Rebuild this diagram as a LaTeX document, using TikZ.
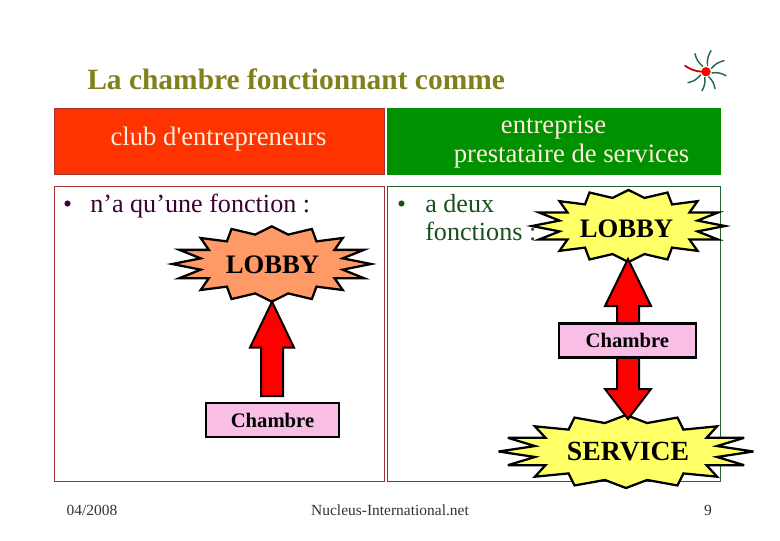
\documentclass[tikz,border=0pt]{standalone}
\usepackage{fontspec}
\usetikzlibrary{calc}
\setmainfont{Liberation Serif}
\newfontfamily\plainserif{Liberation Serif}
\definecolor{ttl}{RGB}{128,128,28}
\definecolor{redbox}{RGB}{255,51,0}
\definecolor{greenbox}{RGB}{0,145,0}
\definecolor{redline}{RGB}{160,50,50}
\definecolor{greenline}{RGB}{40,100,50}
\definecolor{salmon}{RGB}{255,153,102}
\definecolor{yel}{RGB}{255,255,102}
\definecolor{pinkb}{RGB}{248,190,230}
\definecolor{maroontxt}{RGB}{60,0,50}
\definecolor{greentxt}{RGB}{25,80,30}
\definecolor{cream}{RGB}{255,238,220}
\definecolor{leaf}{RGB}{40,105,70}
\newcommand{\burst}[5]{% x y hw hh colour
  \filldraw[burstline,fill=#5,shift={(#1,#2)},x={#3*0.75pt},y={-#4*0.75pt}]
  (0,-1)--(.16,-.78)--(.39,-.93)--(.435,-.60)--(.69,-.69)--(.61,-.375)--(.895,-.375)--(.69,-.15)--(.965,0)
  --(.69,.15)--(.895,.375)--(.61,.375)--(.69,.69)--(.435,.60)--(.39,.93)--(.16,.78)--(0,1)
  --(-.16,.78)--(-.39,.93)--(-.435,.60)--(-.69,.69)--(-.61,.375)--(-.895,.375)--(-.69,.15)--(-.965,0)
  --(-.69,-.15)--(-.895,-.375)--(-.61,-.375)--(-.69,-.69)--(-.435,-.60)--(-.39,-.93)--(-.16,-.78)--cycle;}
\tikzset{
  burstline/.style={draw=black,line width=1.7pt,line join=miter,miter limit=6},
  blockarrow/.style={draw=black,line width=1.5pt,fill=red,line join=miter},
  headtext/.style={anchor=base,inner sep=0pt,text=cream,font=\plainserif\fontsize{20}{24}\selectfont},
  panel/.style={fill=white,line width=0.7pt},
  body/.style={anchor=base west,inner sep=0pt,font=\fontsize{19.6}{24}\selectfont},
  bulletmark/.style={circle,inner sep=0pt,minimum size=4.6pt},
  bursttext/.style={inner sep=0pt,text=black,font=\bfseries\fontsize{20}{24}\selectfont},
  chambrebox/.style={draw=black,line width=1.6pt,fill=pinkb,inner sep=0pt,text=black,font=\bfseries\fontsize{15.5}{18}\selectfont},
  foot/.style={inner sep=0pt,text=black!80,font=\fontsize{11.6}{14}\selectfont},
  sunray/.style={line width=1.1pt,draw=leaf,line cap=round}
}
\begin{document}
\begin{tikzpicture}[x=0.75pt,y=-0.75pt]
\useasboundingbox (0,0) rectangle (780,540);
\fill[white] (0,0) rectangle (780,540);
% title
\node[anchor=base west,inner sep=0pt,text=ttl,font=\bfseries\fontsize{22.1}{26}\selectfont] (title) at (87,89.3) {La chambre fonctionnant comme};
% logo
\coordinate (sun) at (706,71.7);
\foreach \dx/\dy in {-11/-18,5/-21,18/-11,20/4,9/17,-4/19,-18/11}{
  \draw[sunray] ($(sun)+(.3*\dx,.3*\dy)$) to[bend left=18] ($(sun)+(\dx,\dy)$);
}
\draw[line width=1.3pt,draw=red!75!black,line cap=round] ($(sun)+(-4,0)$) to[bend left=15] ($(sun)+(-21,-6)$);
\fill[red] (sun) circle (4.7);
% header boxes
\filldraw[fill=redbox,draw=redline,line width=0.6pt] (54.5,108.5) rectangle (384.5,174.5);
\fill[greenbox] (387,108) rectangle (721,175);
\node[headtext] (hl) at (218.5,145) {club d'entrepreneurs};
\node[headtext] (hra) at (553.5,133) {entreprise};
\node[headtext] (hrb) at (571.5,162.7) {prestataire de services};
% panels
\draw[panel,draw=redline] (54.5,186.5) rectangle (384.5,481.5);
\draw[panel,draw=greenline] (387.5,186.5) rectangle (720.5,481.5);
% bullets and text
\node[bulletmark,fill=maroontxt] (b1) at (67.5,203.5) {};
\node[body,text=maroontxt] (t1) at (90,212) {n’a qu’une fonction :};
\node[bulletmark,fill=greentxt] (b2) at (401.5,203.5) {};
\node[body,text=greentxt] (t2a) at (425,212) {a deux};
\node[body,text=greentxt] (t2b) at (425,240) {fonctions :};
% left side
\burst{271.7}{264}{103}{37.7}{salmon}
\node[bursttext] (lobbyL) at (272.5,265) {LOBBY};
\node[chambrebox,minimum width=100pt,minimum height=25.5pt] (chL) at (272.5,420) {Chambre};
\coordinate (tipL) at (272,301.7);
\filldraw[blockarrow] (tipL) -- (294,347.5) -- (283,347.5) -- (283,396) -- (261,396) -- (261,347.5) -- (250,347.5) -- cycle;
% right side
\burst{628.5}{226}{100}{36}{yel}
\node[bursttext] (lobbyR) at (626.5,228.5) {LOBBY};
\burst{626}{451.5}{132}{36.5}{yel}
\node[bursttext,font=\bfseries\fontsize{20.8}{24}\selectfont] (serviceR) at (628,451.5) {SERVICE};
\coordinate (tipU) at (628,259);
\coordinate (tipD) at (628,419);
\filldraw[blockarrow] (tipU) -- (651,306) -- (639,306) -- (639,330) -- (617,330) -- (617,306) -- (605,306) -- cycle;
\filldraw[blockarrow] (tipD) -- (651,389) -- (639,389) -- (639,355) -- (617,355) -- (617,389) -- (605,389) -- cycle;
\node[chambrebox,minimum width=103pt,minimum height=25.5pt] (chR) at (627.3,340.5) {Chambre};
% footer
\node[foot] (date) at (92,510) {04/2008};
\node[foot] (site) at (390,510) {Nucleus-International.net};
\node[foot] (num) at (708,510) {9};
\end{tikzpicture}
\end{document}
